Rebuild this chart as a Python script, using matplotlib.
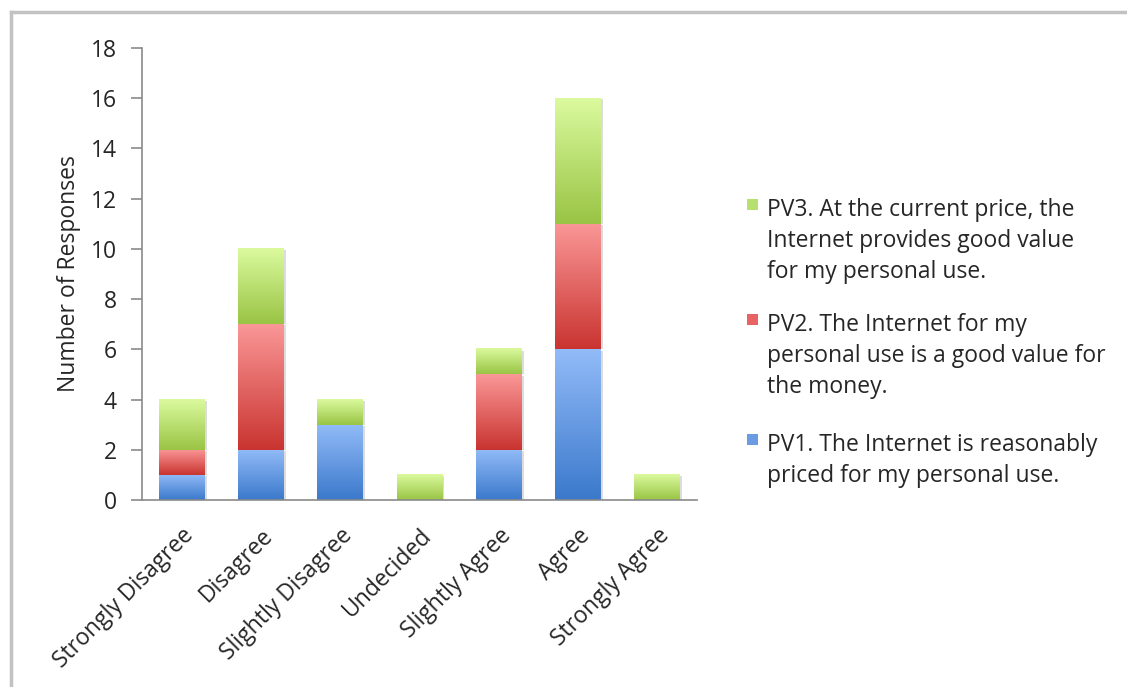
import numpy as np
import matplotlib
matplotlib.use("Agg")
import matplotlib.pyplot as plt
from matplotlib.colors import LinearSegmentedColormap
from matplotlib.patches import Rectangle

plt.rcParams['font.family'] = ['Open Sans', 'DejaVu Sans']

categories = ["Strongly Disagree", "Disagree", "Slightly Disagree", "Undecided",
              "Slightly Agree", "Agree", "Strongly Agree"]
pv1 = [1, 2, 3, 0, 2, 6, 0]
pv2 = [1, 5, 0, 0, 3, 5, 0]
pv3 = [2, 3, 1, 1, 1, 5, 1]

legend_labels = [
    "PV3. At the current price, the\nInternet provides good value\nfor my personal use.",
    "PV2. The Internet for my\npersonal use is a good value for\nthe money.",
    "PV1. The Internet is reasonably\npriced for my personal use.",
]

# (bottom colour, top colour) for each series gradient
shades = {
    "pv1": ("#3b79cb", "#92bbf8"),
    "pv2": ("#c93430", "#fa9797"),
    "pv3": ("#99c444", "#dbfa9e"),
}

FS = 16.5
TXT = "#262626"
W, H = 1127, 687
fig = plt.figure(figsize=(W / 100, H / 100), dpi=100)

# light grey frame along the top and left edges
fig.add_artist(plt.Line2D([11 / W, 11 / W], [1 - 12 / H, 0], color="#c2c2c2", lw=2.5))
fig.add_artist(plt.Line2D([11 / W, 1], [1 - 12 / H, 1 - 12 / H], color="#c2c2c2", lw=2.5))

ax = fig.add_axes([142 / W, 1 - 500 / H, (697 - 142) / W, (500 - 48) / H])

x = np.arange(len(categories))
width = 0.58
series = [("pv1", pv1), ("pv2", pv2), ("pv3", pv3)]
bottom = np.zeros(len(categories))
grad = np.linspace(0, 1, 256).reshape(-1, 1)
for key, vals in series:
    bars = ax.bar(x, vals, width, bottom=bottom, facecolor="none", edgecolor="none")
    cmap = LinearSegmentedColormap.from_list(key, list(shades[key]))
    for b in bars:
        if b.get_height() <= 0:
            continue
        x0, y0 = b.get_x(), b.get_y()
        x1, y1 = x0 + b.get_width(), y0 + b.get_height()
        # soft drop shadow
        ax.add_patch(Rectangle((x1, y0), 0.025, y1 - y0 - 0.05, color="#dcdcdc", lw=0, zorder=1))
        ax.imshow(grad, extent=[x0, x1, y0, y1], origin="lower", aspect="auto",
                  cmap=cmap, interpolation="bilinear", zorder=2)
    bottom += np.array(vals)

ax.set_xlim(-0.5, len(categories) - 0.5)
ax.set_ylim(0, 18)
ax.set_yticks(range(0, 19, 2))
ax.set_xticks(x)
ax.set_xticklabels(categories, rotation=45, ha="right", va="top", rotation_mode="anchor")

for s in ["top", "right"]:
    ax.spines[s].set_visible(False)
for s in ["left", "bottom"]:
    ax.spines[s].set_color("#8a8a8a")
    ax.spines[s].set_linewidth(1.2)
ax.tick_params(axis="y", length=8, width=1.2, color="#8a8a8a", pad=10, labelsize=FS, labelcolor=TXT)
ax.tick_params(axis="x", length=0, pad=17, labelsize=FS, labelcolor=TXT)
ax.set_ylabel("Number of Responses", fontsize=FS, color=TXT, labelpad=7)

# legend, drawn in figure pixels
legend_colors = ["#b8e070", "#e86464", "#6b9be0"]
legend_tops = [199, 314, 434]
for lab, col, top in zip(legend_labels, legend_colors, legend_tops):
    fig.add_artist(Rectangle((747 / W, 1 - (top + 11) / H), 11 / W, 11 / H,
                             transform=fig.transFigure, color=col, lw=0))
    fig.text(767 / W, 1 - (top - 1) / H, lab, ha="left", va="top", fontsize=FS,
             color=TXT, linespacing=1.38)

fig.savefig("out.png", dpi=100)
